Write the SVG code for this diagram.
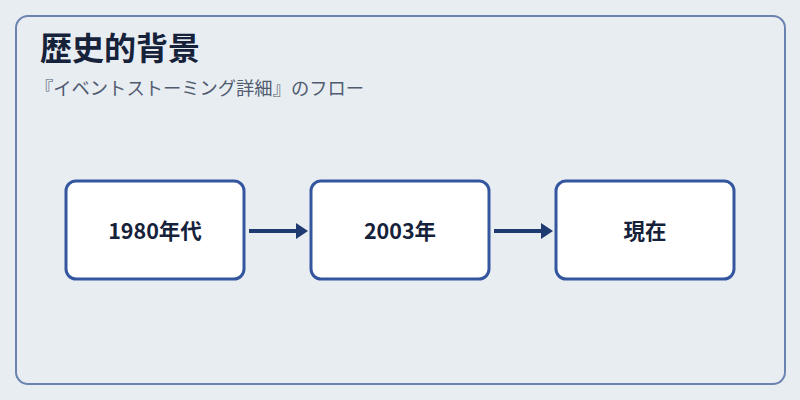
<svg xmlns="http://www.w3.org/2000/svg" width="800" height="400" viewBox="0 0 800 400">
<style>
.frame{fill:#e8edf2;stroke:#6a83b0;stroke-width:2}
.node{fill:#ffffff;stroke:#34569e;stroke-width:3}
.lbl{font-family:"Noto Sans CJK JP","Noto Sans",sans-serif;font-size:21.5px;font-weight:bold;fill:#16223a;text-anchor:middle}
.title{font-family:"Noto Sans CJK JP","Noto Sans",sans-serif;font-size:32px;font-weight:bold;fill:#16223a}
.sub{font-family:"Noto Sans CJK JP","Noto Sans",sans-serif;font-size:18.3px;fill:#505b70}
.conn{stroke:#1e3a70;stroke-width:4;fill:none}
</style>
<defs>
<marker id="arrow" viewBox="0 0 12 16" markerWidth="12" markerHeight="16" refX="1" refY="8" orient="auto" markerUnits="userSpaceOnUse">
<path d="M0,0 L12,8 L0,16 Z" fill="#1e3a70"/>
</marker>
</defs>
<rect x="0" y="0" width="800" height="400" fill="#e8edf2"/>
<rect class="frame" x="16" y="16" width="769" height="368" rx="12"/>
<text class="title" x="40" y="60">歴史的背景</text>
<text class="sub" x="35" y="95">『イベントストーミング詳細』のフロー</text>
<g id="connectors">
<line class="conn" x1="249" y1="231" x2="297" y2="231" marker-end="url(#arrow)"/>
<line class="conn" x1="494" y1="231" x2="542" y2="231" marker-end="url(#arrow)"/>
</g>
<g id="node1">
<rect class="node" x="66" y="181" width="178" height="98" rx="10"/>
<text class="lbl" x="155" y="239">1980年代</text>
</g>
<g id="node2">
<rect class="node" x="311" y="181" width="178" height="98" rx="10"/>
<text class="lbl" x="400" y="239">2003年</text>
</g>
<g id="node3">
<rect class="node" x="556" y="181" width="178" height="98" rx="10"/>
<text class="lbl" x="645" y="239">現在</text>
</g>
</svg>
